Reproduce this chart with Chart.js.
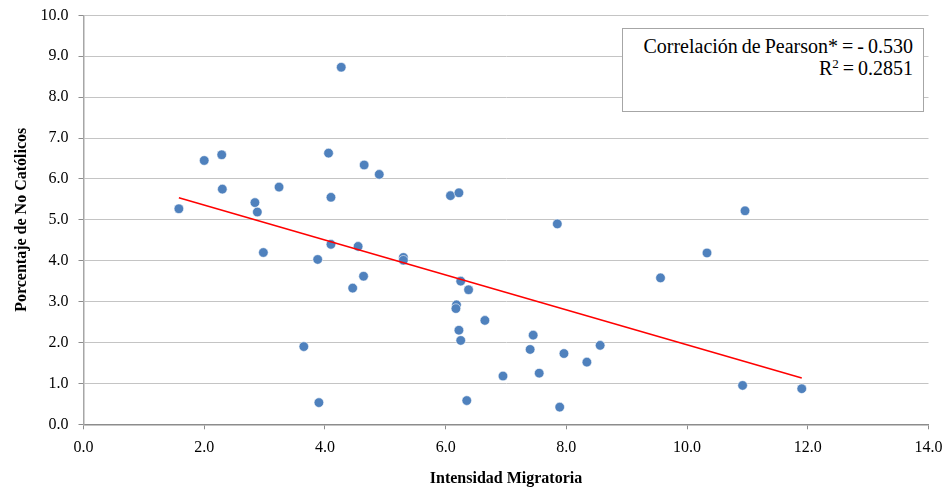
<!DOCTYPE html>
<html lang="es">
<head>
<meta charset="utf-8">
<title>Intensidad Migratoria vs Porcentaje de No Católicos</title>
<script src="https://cdn.jsdelivr.net/npm/chart.js@4.4.1/dist/chart.umd.min.js"></script>
<style>
    html, body { margin: 0; padding: 0; background: #fff; }
    #wrap { position: relative; width: 944px; height: 488px; }
    #grafico { display: block; }
    /* cuadro de correlación */
    #cuadro {
        position: absolute;
        left: 622px;
        top: 28px;
        width: 302px;
        height: 84px;
        box-sizing: border-box;
        border: 1px solid #A6A6A6;
        background: #fff;
        font-family: "Liberation Serif", "Times New Roman", serif;
        font-size: 20px;
        line-height: 22px;
        text-align: right;
        word-spacing: -1px;
        padding: 6px 10px 0 0;
        color: #000;
    }
    #cuadro sup { font-size: 13px; line-height: 0; vertical-align: 7px; }
</style>
</head>
<body>
<div id="wrap">
    <canvas id="grafico" width="944" height="488"></canvas>
    <div id="cuadro">
        <div>Correlación de Pearson* = - 0.530</div>
        <div>R<sup>2</sup> = 0.2851</div>
    </div>
</div>
<script>
// Intensidad migratoria (eje X) y porcentaje de no católicos (eje Y)
const intensidad = [
    4.27, 2.00, 2.29, 4.06, 4.65, 4.90, 2.30, 3.24, 4.10, 2.84,
    1.58, 2.88, 4.10, 4.55, 2.98, 3.88, 4.64, 4.46, 3.65, 3.90,
    6.08, 6.22, 7.85, 5.30, 5.30, 6.25, 6.38, 6.18, 6.17, 6.65,
    6.22, 6.25, 7.45, 7.40, 7.96, 8.56, 8.34, 6.95, 7.55, 6.35,
    7.89, 9.56, 10.96, 10.33, 10.92, 11.90
];
const noCatolicos = [
    8.73, 6.45, 6.59, 6.63, 6.34, 6.11, 5.75, 5.80, 5.55, 5.42,
    5.27, 5.19, 4.40, 4.35, 4.20, 4.03, 3.62, 3.33, 1.90, 0.53,
    5.59, 5.66, 4.90, 4.08, 4.01, 3.50, 3.29, 2.92, 2.83, 2.54,
    2.30, 2.05, 2.18, 1.83, 1.73, 1.93, 1.52, 1.18, 1.25, 0.58,
    0.42, 3.58, 5.22, 4.19, 0.95, 0.87
];

// línea de tendencia (extremos)
const tendenciaX = [1.58, 11.90];
const tendenciaY = [5.54, 1.13];

const FUENTE = '"Liberation Serif", "Times New Roman", serif';
const COLOR_EJE = '#8C8C8C';
const COLOR_REJILLA = '#C4C4C4';

const puntos = intensidad.map((x, i) => ({ x: x, y: noCatolicos[i] }));
const tendencia = tendenciaX.map((x, i) => ({ x: x, y: tendenciaY[i] }));

const ctx = document.getElementById('grafico').getContext('2d');

new Chart(ctx, {
    type: 'scatter',
    data: {
        datasets: [
            {
                label: 'Tendencia',
                data: tendencia,
                showLine: true,
                borderColor: '#FF0000',
                borderWidth: 1.5,
                pointRadius: 0,
                fill: false,
                order: 1
            },
            {
                label: 'Datos',
                data: puntos,
                backgroundColor: '#4F81BD',
                borderColor: 'rgba(255, 255, 255, 0.7)',
                borderWidth: 0.8,
                pointRadius: 4.8,
                order: 2
            }
        ]
    },
    options: {
        responsive: false,
        animation: false,
        layout: {
            padding: { top: 15.3, right: 15.5, bottom: 0, left: 0 }
        },
        plugins: {
            legend: { display: false },
            tooltip: { enabled: false }
        },
        scales: {
            x: {
                type: 'linear',
                min: 0,
                max: 14,
                afterFit: (scale) => {
                    scale.height = 63.7;
                    scale.paddingLeft = 0;
                    scale.paddingRight = 0;
                },
                ticks: {
                    stepSize: 2,
                    padding: 9,
                    color: '#000',
                    font: { family: FUENTE, size: 16 },
                    callback: (v) => Number(v).toFixed(1)
                },
                grid: {
                    drawOnChartArea: false,
                    drawTicks: true,
                    tickLength: 5,
                    tickColor: COLOR_EJE
                },
                border: { color: COLOR_EJE, width: 1.5 },
                title: {
                    display: true,
                    text: 'Intensidad Migratoria',
                    color: '#000',
                    font: { family: FUENTE, size: 16, weight: 'bold' },
                    padding: { top: 0, bottom: 0 }
                }
            },
            y: {
                type: 'linear',
                min: 0,
                max: 10,
                afterFit: (scale) => {
                    scale.width = 83.5;
                    scale.paddingTop = 0;
                    scale.paddingBottom = 0;
                },
                ticks: {
                    stepSize: 1,
                    padding: 10,
                    color: '#000',
                    font: { family: FUENTE, size: 16 },
                    callback: (v) => Number(v).toFixed(1)
                },
                grid: {
                    color: COLOR_REJILLA,
                    lineWidth: 1,
                    tickLength: 5,
                    tickColor: COLOR_EJE
                },
                border: { color: '#A6A6A6', width: 1.5 },
                title: {
                    display: true,
                    text: 'Porcentaje de No Católicos',
                    color: '#000',
                    font: { family: FUENTE, size: 16, weight: 'bold' },
                    padding: { top: 12, bottom: 0 }
                }
            }
        }
    }
});
</script>
</body>
</html>
